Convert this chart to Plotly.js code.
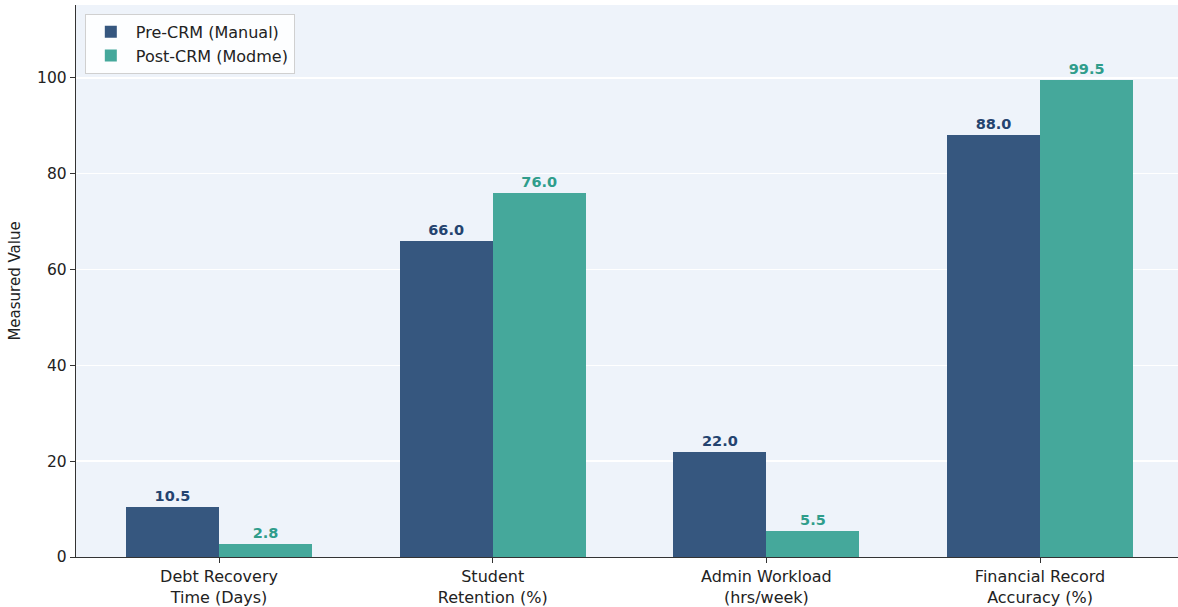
<!DOCTYPE html>
<html>
<head>
<meta charset="utf-8">
<script src="https://cdn.plot.ly/plotly-3.0.1.min.js"></script>
<style>
  html, body { margin: 0; padding: 0; background: #ffffff; }
  #chart { width: 1178px; height: 607px; }
</style>
</head>
<body>
<div id="chart"></div>
<script>
// Metric categories (two-line tick labels)
const categories = [
  "Debt Recovery<br>Time (Days)",
  "Student<br>Retention (%)",
  "Admin Workload<br>(hrs/week)",
  "Financial Record<br>Accuracy (%)"
];
const seriesNames = ["Pre-CRM (Manual)", "Post-CRM (Modme)"];
const preCrm = [10.5, 66.0, 22.0, 88.0];
const postCrm = [2.8, 76.0, 5.5, 99.5];
const yTicks = [0, 20, 40, 60, 80, 100];

const preColor = "#36577f";
const postColor = "#45a89b";
const preLabelColor = "#24436f";
const postLabelColor = "#2f9d8b";
const barWidth = 0.34;
const xIdx = categories.map((_, i) => i);

function barTrace(name, values, color, labelColor, offset) {
  return {
    type: "bar",
    name: name,
    x: xIdx,
    y: values,
    width: barWidth,
    offset: offset,
    marker: { color: color, line: { width: 0 } },
    text: values.map(v => v.toFixed(1)),
    textposition: "outside",
    constraintext: "none",
    cliponaxis: false,
    textfont: { family: "DejaVu Sans", size: 14.5, color: labelColor, weight: "bold" },
    hoverinfo: "x+y"
  };
}

const traces = [
  barTrace(seriesNames[0], preCrm, preColor, preLabelColor, -barWidth),
  barTrace(seriesNames[1], postCrm, postColor, postLabelColor, 0)
];

const layout = {
  width: 1178,
  height: 607,
  margin: { l: 76, r: 0, t: 5, b: 50 },
  paper_bgcolor: "#ffffff",
  plot_bgcolor: "#eef3fa",
  font: { family: "DejaVu Sans", size: 15, color: "#222222" },
  showlegend: true,
  legend: {
    x: 0.008, y: 0.984, xanchor: "left", yanchor: "top",
    bgcolor: "rgba(255,255,255,0.85)",
    bordercolor: "#d0d0d0", borderwidth: 1,
    font: { family: "DejaVu Sans", size: 16, color: "#222222" },
    itemwidth: 40,
    tracegroupgap: 0
  },
  xaxis: {
    range: [-0.5225, 3.504],
    tickmode: "array",
    tickvals: xIdx,
    ticktext: categories,
    ticks: "outside", ticklen: 5, tickwidth: 1, tickcolor: "#333333",
    showline: true, linecolor: "#333333", linewidth: 1.2,
    showgrid: false, zeroline: false,
    tickfont: { family: "DejaVu Sans", size: 16, color: "#222222" }
  },
  yaxis: {
    range: [0, 115.2],
    tickmode: "array",
    tickvals: yTicks,
    ticks: "outside", ticklen: 5, tickwidth: 1, tickcolor: "#333333",
    showline: true, linecolor: "#333333", linewidth: 1.2,
    showgrid: true, gridcolor: "#ffffff", gridwidth: 1.5,
    zeroline: false,
    tickfont: { family: "DejaVu Sans", size: 15.5, color: "#222222" },
    title: { text: "Measured Value", font: { family: "DejaVu Sans", size: 15, color: "#222222" }, standoff: 12 }
  },
  bargap: 0
};

Plotly.newPlot("chart", traces, layout, { displayModeBar: false, staticPlot: true });
</script>
</body>
</html>
